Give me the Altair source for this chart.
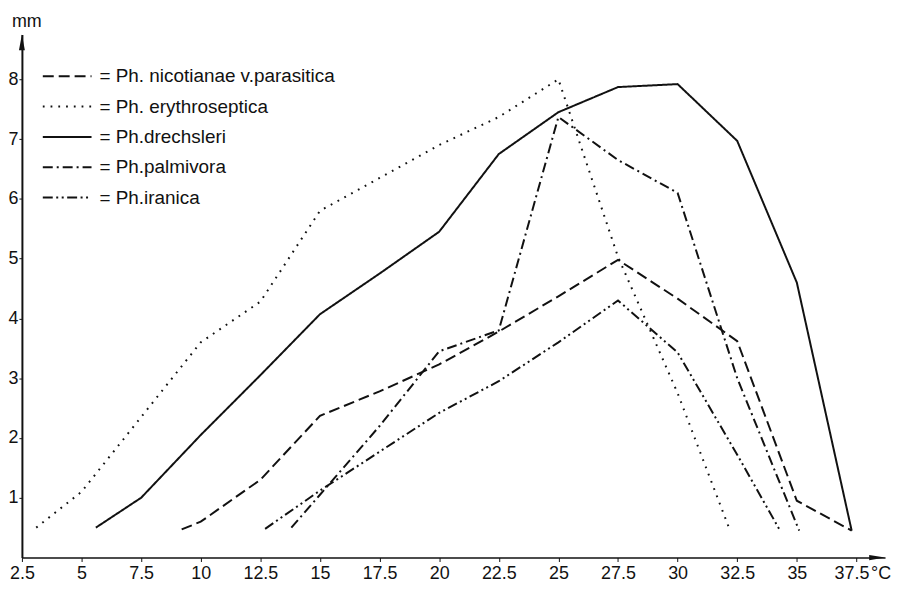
import altair as alt
import pandas as pd

# ---- data ----
names = [
    "Ph. nicotianae v.parasitica",
    "Ph. erythroseptica",
    "Ph.drechsleri",
    "Ph.palmivora",
    "Ph.iranica",
]

nico_t = [9.2, 10, 12.5, 15, 17.5, 20, 22.5, 25, 27.5, 30, 32.5, 35, 37.3]
nico_v = [0.47, 0.6, 1.3, 2.37, 2.78, 3.23, 3.78, 4.37, 4.98, 4.33, 3.62, 0.95, 0.45]

eryt_t = [3.1, 5, 10, 12.5, 15, 17.5, 20, 22.5, 25, 27.5, 30, 32.2]
eryt_v = [0.5, 1.1, 3.6, 4.28, 5.8, 6.35, 6.9, 7.37, 8.0, 5.03, 2.75, 0.45]

drec_t = [5.6, 7.5, 10, 12.5, 15, 17.5, 20, 22.5, 25, 27.5, 30, 32.5, 35, 37.3]
drec_v = [0.5, 1.0, 2.05, 3.05, 4.07, 4.75, 5.45, 6.75, 7.45, 7.87, 7.92, 6.97, 4.6, 0.45]

palm_t = [13.8, 15, 17.5, 20, 22.5, 25, 27.5, 30, 32.5, 35.1]
palm_v = [0.5, 1.05, 2.2, 3.45, 3.8, 7.37, 6.65, 6.1, 3.0, 0.45]

iran_t = [12.7, 15, 17.5, 20, 22.5, 25, 27.5, 30, 32.5, 34.3]
iran_v = [0.48, 1.12, 1.77, 2.42, 2.95, 3.6, 4.3, 3.43, 1.72, 0.45]

x_ticks = [2.5, 5, 7.5, 10, 12.5, 15, 17.5, 20, 22.5, 25, 27.5, 30, 32.5, 35, 37.5]
y_ticks = [1, 2, 3, 4, 5, 6, 7, 8]

series = [(names[0], nico_t, nico_v), (names[1], eryt_t, eryt_v),
          (names[2], drec_t, drec_v), (names[3], palm_t, palm_v),
          (names[4], iran_t, iran_v)]
rows = []
for name, ts, vs in series:
    for i, (t, v) in enumerate(zip(ts, vs)):
        rows.append({"name": name, "t": t, "v": v, "o": i})
df = pd.DataFrame(rows)

FONT = "Liberation Sans"
INK = "#111111"
W, H = 868, 526

dash_scale = alt.Scale(
    domain=names,
    range=[[11, 5], [1.8, 6], [1, 0], [10, 4, 2, 4], [10, 3.5, 2, 3.5, 2, 3.5]],
)

xscale = alt.Scale(domain=[2.5, 38.7], nice=False, zero=False)
yscale = alt.Scale(domain=[0, 8.75], nice=False)

lines = alt.Chart(df).mark_line(color=INK, strokeWidth=2).encode(
    x=alt.X("t:Q", scale=xscale, title=None,
            axis=alt.Axis(values=x_ticks, format=".1~f", grid=False,
                          labelFont=FONT, labelFontSize=18, labelColor=INK,
                          labelPadding=3, tickSize=4, tickColor=INK,
                          domainColor=INK, domainWidth=1.6, labelFlush=False,
                          labelOverlap=False,
                          labelOffset={"condition": {"test": "datum.value == 37.5", "value": -5},
                                       "value": 0})),
    y=alt.Y("v:Q", scale=yscale, title=None,
            axis=alt.Axis(values=y_ticks, grid=False,
                          labelFont=FONT, labelFontSize=18, labelColor=INK,
                          labelPadding=1, tickSize=3, tickColor=INK,
                          domainColor=INK, domainWidth=2, labelFlush=False)),
    strokeDash=alt.StrokeDash("name:N", scale=dash_scale, legend=None),
    detail="name:N",
    order="o:Q",
)

leg_df = pd.DataFrame({"name": names, "idx": list(range(len(names)))})
leg_base = alt.Chart(leg_df).transform_calculate(ly="42 + 30.5*datum.idx")

leg_rules = leg_base.mark_rule(color=INK, strokeWidth=2).encode(
    x=alt.value(21), x2=alt.value(70),
    y=alt.Y("ly:Q", scale=None),
    strokeDash=alt.StrokeDash("name:N", scale=dash_scale, legend=None),
)
leg_text = leg_base.transform_calculate(lab="'= ' + datum.name").mark_text(
    font=FONT, fontSize=19, color=INK, align="left", baseline="middle"
).encode(
    x=alt.value(78), y=alt.Y("ly:Q", scale=None), text="lab:N"
)

unit_df = pd.DataFrame({"a": [0]})
mm_text = alt.Chart(unit_df).mark_text(
    text="mm", font=FONT, fontSize=18, color=INK, align="left", baseline="alphabetic"
).encode(x=alt.value(-10), y=alt.value(-8))
degc_text = alt.Chart(unit_df).mark_text(
    text="°C", font=FONT, fontSize=18, color=INK, align="left", baseline="top"
).encode(x=alt.value(854), y=alt.value(8 + H))

up_arrow = alt.Chart(unit_df).mark_point(
    shape="M0,0L0.56,3L-0.56,3Z", size=113, filled=True, color=INK, opacity=1, strokeWidth=0
).encode(x=alt.value(0), y=alt.value(0))
right_arrow = alt.Chart(unit_df).mark_point(
    shape="M0,0L-3,0.5L-3,-0.5Z", size=113, filled=True, color=INK, opacity=1, strokeWidth=0
).encode(x=alt.value(W), y=alt.value(H))

chart = alt.layer(lines, leg_rules, leg_text, mm_text, degc_text, up_arrow, right_arrow).properties(
    width=W, height=H,
    padding={"left": 14, "top": 25, "right": 8, "bottom": 26},
    autosize=alt.AutoSizeParams(type="none"),
    background="white",
).configure_view(stroke=None)

chart.save("out.html", embed_options={"renderer": "svg", "actions": False})
